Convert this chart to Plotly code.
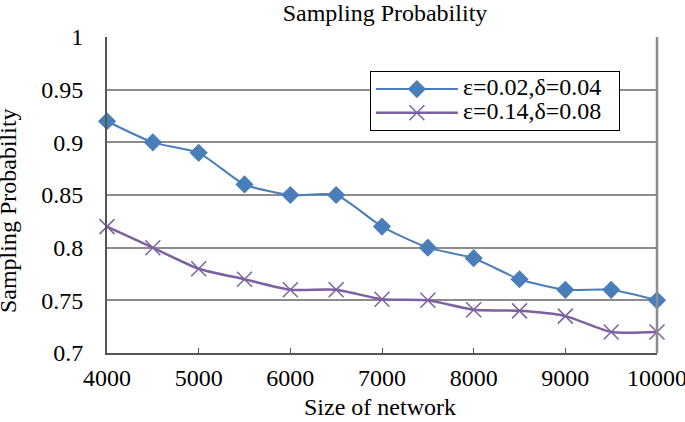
import plotly.graph_objects as go

x_vals = [4000, 4500, 5000, 5500, 6000, 6500, 7000, 7500, 8000, 8500, 9000, 9500, 10000]
series1 = [0.92, 0.90, 0.89, 0.86, 0.85, 0.85, 0.82, 0.80, 0.79, 0.77, 0.76, 0.76, 0.75]
series2 = [0.82, 0.80, 0.78, 0.77, 0.76, 0.76, 0.751, 0.75, 0.741, 0.74, 0.735, 0.72, 0.72]
name1 = "ε=0.02,δ=0.04"
name2 = "ε=0.14,δ=0.08"
y_ticks = [0.7, 0.75, 0.8, 0.85, 0.9, 0.95, 1]
y_tick_text = ["0.7", "0.75", "0.8", "0.85", "0.9", "0.95", "1"]
x_ticks = [4000, 5000, 6000, 7000, 8000, 9000, 10000]
x_tick_text = ["4000", "5000", "6000", "7000", "8000", "9000", "10000"]

FONT = "Liberation Serif"
FS = 24


def big(t):
    return '<span style="font-size:24px">' + t + '&nbsp;&nbsp;</span>'


fig = go.Figure()
fig.add_trace(go.Scatter(
    x=x_vals, y=series1, name=big(name1), mode="lines+markers",
    line=dict(color="#4A7EBB", width=2, shape="spline", smoothing=0.6),
    marker=dict(symbol="diamond", size=14, color="#4A7EBB"),
    cliponaxis=False,
))
fig.add_trace(go.Scatter(
    x=x_vals, y=series2, name=big(name2), mode="lines+markers",
    line=dict(color="#7D60A0", width=2.5, shape="spline", smoothing=0.6),
    marker=dict(symbol="x-thin", size=15, color="#7D60A0",
                line=dict(color="#7D60A0", width=1.5)),
    cliponaxis=False,
))

fig.update_layout(
    width=685, height=422,
    margin=dict(l=107, r=28, t=37, b=69, autoexpand=False),
    paper_bgcolor="white", plot_bgcolor="white",
    font=dict(family=FONT, size=FS, color="black"),
    title=dict(text="Sampling Probability", x=0.562, xanchor="center",
               y=0.969, yanchor="middle", font=dict(size=FS)),
    legend=dict(x=0.478, y=0.892, xanchor="left", yanchor="top",
                bordercolor="black", borderwidth=1, bgcolor="white",
                font=dict(size=16, family=FONT), tracegroupgap=0,
                itemwidth=82),
    showlegend=True,
)
fig.update_xaxes(
    range=[4000, 10000], tickvals=x_ticks, ticktext=x_tick_text,
    ticks="inside", ticklen=5,
    tickcolor="#555555", showline=True, linecolor="#555555", linewidth=2,
    showgrid=False, zeroline=False, mirror=False, automargin=False,
    ticklabelstandoff=2, ticklabeloverflow="allow", tickfont=dict(size=FS),
)
fig.update_yaxes(
    range=[0.7, 1.0], tickvals=y_ticks, ticktext=y_tick_text, ticks="",
    showline=True, linecolor="#555555", linewidth=2,
    showgrid=True, gridcolor="#8C8C8C", gridwidth=2, zeroline=False,
    automargin=False, ticklabelstandoff=17, ticklabeloverflow="allow",
    tickfont=dict(size=FS),
)
# right border of plot area
fig.add_shape(type="line", xref="paper", yref="paper", x0=1, x1=1, y0=0, y1=1,
              line=dict(color="#8C8C8C", width=2.5))

fig.add_annotation(text="Size of network", xref="paper", yref="paper",
                   x=0.496, y=-0.171, xanchor="center", yanchor="middle",
                   showarrow=False, font=dict(size=FS))
fig.add_annotation(text="Sampling Probability", xref="paper", yref="paper",
                   x=-0.18, y=0.449, xanchor="center", yanchor="middle",
                   textangle=-90, showarrow=False, font=dict(size=FS))

fig.write_html("out.html",
               config={"displayModeBar": False},
               post_script="document.body.style.margin='0';"
                           "document.body.style.overflow='hidden';")
